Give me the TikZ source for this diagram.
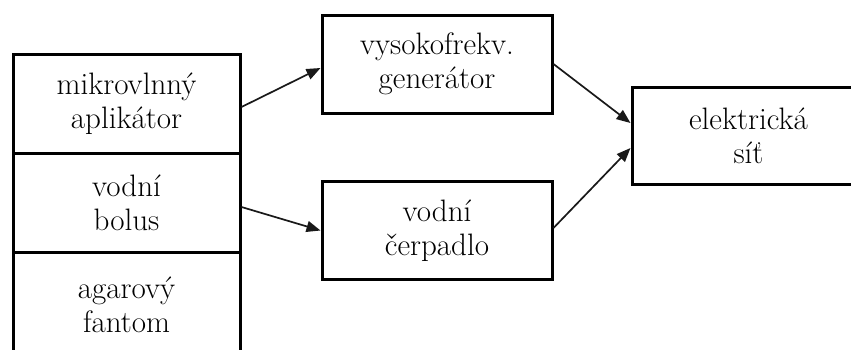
\documentclass[tikz,border=0pt]{standalone}
\usepackage{fontspec}
\usetikzlibrary{arrows.meta}
\begin{document}
\begin{tikzpicture}[x=1pt,y=-1pt,
  txt/.style={font=\fontsize{31}{34}\selectfont,text=black,align=center},
  blk/.style={txt,draw=black,line width=3pt,minimum width=227pt,minimum height=99pt,inner sep=0pt},
  bx/.style={txt,draw=black,line width=3pt,minimum width=230pt,minimum height=98pt,inner sep=0pt},
  conn/.style={line width=1.7pt,draw=black!90,-{Triangle[length=14pt,width=11pt]}}]
\clip (0,0) rectangle (851,349);
\node[blk] (m) at (126.5,104) {mikrovlnný\\aplikátor};
\node[blk] (b) at (126.5,202.5) {vodní\\bolus};
\node[blk,minimum height=120pt] (a) at (126.5,312) {};
\node[txt] (at) at (126.5,305) {agarový\\fantom};
\node[bx] (g) at (437,64) {vysokofrekv.\\generátor};
\node[bx] (p) at (437,230.5) {vodní\\čerpadlo};
\node[bx,minimum width=233pt,minimum height=97pt] (e) at (748.5,135.5) {elektrická\\síť};
\draw[conn] ([yshift=-3pt]m.east) -- ([yshift=-4pt]g.west);
\draw[conn] ([yshift=-4.5pt]b.east) -- (p.west);
\draw[conn] (g.east) -- ([yshift=12.5pt]e.west);
\draw[conn] ([yshift=2.5pt]p.east) -- ([yshift=-12.5pt]e.west);
\end{tikzpicture}
\end{document}
